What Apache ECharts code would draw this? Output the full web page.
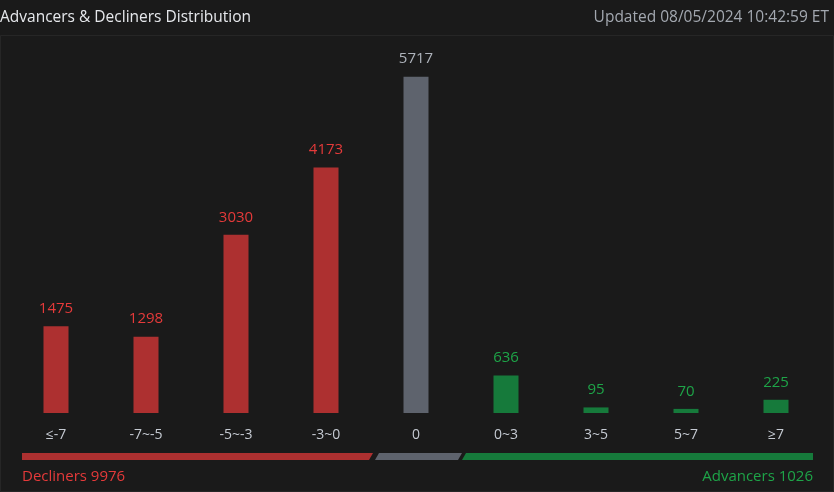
<!DOCTYPE html>
<html><head><meta charset="utf-8">
<script src="https://cdn.jsdelivr.net/npm/echarts@6/dist/echarts.min.js"></script>
<style>html,body{margin:0;padding:0;background:#1a1a1a;}#c{width:834px;height:492px;}</style>
</head><body><div id="c"></div>
<script>
const categories = ['≤-7','-7~-5','-5~-3','-3~0','0','0~3','3~5','5~7','≥7'];
const counts = [1475,1298,3030,4173,5717,636,95,70,225];
const groups = ['down','down','down','down','flat','up','up','up','up'];
const declinersTotal = 9976;
const advancersTotal = 1026;
const titleText = 'Advancers & Decliners Distribution';
const updatedText = 'Updated 08/05/2024 10:42:59 ET';

const barColor = {down:'#ad3030', flat:'#5e636d', up:'#167a3b'};
const labelColor = {down:'#e53a3a', flat:'#aeb3bb', up:'#1ea448'};
const FONT = '"Open Sans", "Noto Sans", sans-serif';

const chart = echarts.init(document.getElementById('c'), null, {renderer:'canvas'});

// bottom summary strip: three slanted segments (layout shares)
const strip = [
  {g:'down', x0:22, x1:373},
  {g:'flat', x0:375, x1:462},
  {g:'up', x0:462, x1:813}
];

chart.setOption({
  backgroundColor:'#1a1a1a',
  animation:false,
  title:[
    {text:titleText, left:0, top:10, padding:0, textStyle:{color:'#e6e8ec', fontSize:15.5, fontWeight:'normal', fontFamily:FONT}},
    {text:updatedText, right:5, top:10, padding:0, textStyle:{color:'#a3a8b0', fontSize:15.5, fontWeight:'normal', fontFamily:FONT}},
    {text:'Decliners ' + declinersTotal, left:22, top:469, padding:0, textStyle:{color:'#e53a3a', fontSize:15, fontWeight:'normal', fontFamily:FONT}},
    {text:'Advancers ' + advancersTotal, right:21, top:469, padding:0, textStyle:{color:'#1ea448', fontSize:15, fontWeight:'normal', fontFamily:FONT}}
  ],
  graphic:[
    {type:'rect', shape:{x:0.5, y:35.5, width:833, height:456}, style:{fill:'none', stroke:'#262626', lineWidth:1}, z:-1},
    ...strip.map(s => ({
      type:'polygon',
      shape:{points: s.g==='down'
        ? [[s.x0,453],[s.x1,453],[s.x1-4,460],[s.x0,460]]
        : s.g==='flat'
        ? [[s.x0+4,453],[s.x1,453],[s.x1-4,460],[s.x0,460]]
        : [[s.x0+4,453],[s.x1,453],[s.x1,460],[s.x0,460]]},
      style:{fill:barColor[s.g]}
    }))
  ],
  grid:{left:11, right:13, top:60, bottom:79},
  xAxis:{
    type:'category', data:categories,
    axisLine:{show:false}, axisTick:{show:false},
    axisLabel:{color:'#c5cad2', fontSize:14, fontFamily:FONT, margin:15}
  },
  yAxis:{type:'value', min:0, max:6000, show:false, splitLine:{show:false}},
  series:[{
    type:'bar', barWidth:25,
    data:counts.map((v,i)=>({value:v, itemStyle:{color:barColor[groups[i]]},
      label:{color:labelColor[groups[i]]}})),
    label:{show:true, position:'top', distance:10, fontSize:15, fontFamily:FONT}
  }]
});
</script></body></html>
